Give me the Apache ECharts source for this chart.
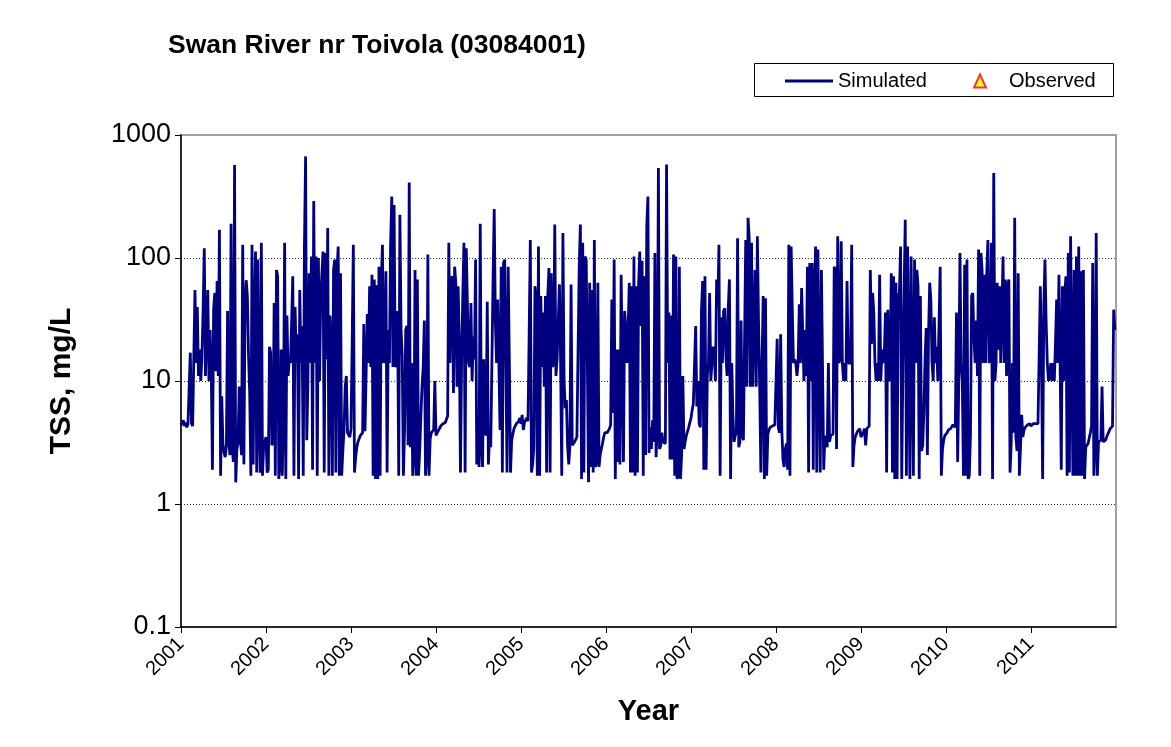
<!DOCTYPE html>
<html>
<head>
<meta charset="utf-8">
<script src="https://cdn.jsdelivr.net/npm/echarts@6/dist/echarts.min.js"></script>
<style>
html,body{margin:0;padding:0;background:#fff;}
#chart{width:1171px;height:747px;}
</style>
</head>
<body>
<div id="chart"></div>
<script>
// Simulated TSS (mg/L), one value every 5 days of each year (73 values per year)
const y2001 = [4.6,4.4,4.8,4.3,4.6,4.2,4.5,4.4,17,4.5,4.3,4.4,55,14,40,11,18,10,16,38,120,11,28,55,10,26,12,1.9,38,52,12,65,11,170,1.7,7.5,3.1,2.6,2.4,3.0,37,3.3,2.5,190,2.8,2.2,570,1.5,2.8,3.1,9,3.5,2.5,128,2.1,40,66,49,16,8,1.7,128,2.1,30,113,1.8,97,5,1.8,133,1.7,3,2.9];
const y2002 = [3.5,1.8,1.9,19,17,3.0,3.2,43,1.7,80,71,1.6,2.1,18,1.7,5.2,133,1.6,34,11,15,14,30,71,1.7,40,14,24,1.6,55,14,28,1.7,124,670,3.3,10,75,14,103,1.9,290,14,103,1.7,100,10,49,49,113,1.8,110,15,175,1.7,34,20,1.7,80,97,1.8,80,124,1.7,75,1.7,2.7,4,9,11,3.8,3.7,3.5];
const y2003 = [4.1,20,128,1.8,2.4,2.9,3.2,3.4,3.6,3.7,3.8,29,3.9,3.8,35,14,59,13,73,1.7,67,1.6,60,1.6,85,1.7,62,128,14,16,78,1.8,26,14,128,316,13,270,13,14,37,1.7,225,26,16,1.7,4,26,28,3,410,2.9,14,1.7,2.5,80,1.7,67,1.7,2.7,5.2,9,13,31,1.7,2.5,107,1.7,3.4,3.8,3.9,4,10];
const y2004 = [3.6,3.8,3.9,4.1,4.3,4.4,4.5,4.6,4.6,4.5,5.2,133,14,67,71,8,85,63,9,59,21,1.8,15,49,133,1.8,120,117,14,13,43,10,23,15,97,2.1,4,2.0,190,3,2.0,15,4,3.6,44,2.1,3.6,2.9,3.0,67,250,30,14,46,14,4,85,1.8,91,97,14,1.8,85,14,1.8,3.3,3.7,4.1,4.3,4.5,4.6,4.7,5.0];
const y2005 = [4.5,5.3,4.0,4.6,4.8,5.0,4.7,24,140,1.8,2.1,2.9,59,46,1.7,124,1.7,49,13,36,9,49,1.8,49,83,1.8,75,13,14,187,11,15,15,61,15,1.7,160,10,6,7,3,2.1,3,61,3,3,3.2,3.3,3.5,3.6,85,187,1.6,133,1.8,103,97,14,1.5,63,2.0,55,1.8,140,2.0,2.2,63,2.0,2.5,2.8,3.1,3.5,3.8];
const y2006 = [3.7,3.8,3.9,4.1,4.4,46,5.5,97,1.6,18,2.2,18,2.1,73,14,2.2,37,28,14,26,63,1.8,59,1.8,103,1.7,59,1.8,61,113,28,95,1.7,71,2.5,180,316,2.6,4.2,2.8,4.8,3.2,110,2.4,4.2,540,2.8,3,3.8,3.2,3.2,3.1,575,14,36,2.3,34,2.3,107,1.7,103,1.6,1.7,85,1.6,2.6,11,2.8,3.2,3.6,3.9,4.2,4.6];
const y2007 = [5.0,5.8,6.5,6.7,28,6.2,10,4.5,4.2,38,65,1.9,71,1.9,11,14,52,10,14,19,16,10,67,40,128,1.7,33,14,37,39,16,11,39,67,1.6,14,5.2,3.2,3.6,3.8,145,2.9,3.2,31,3.6,3.3,3.2,140,9,212,145,9,133,9,9,80,9,150,30,9,1.8,14,49,1.6,47,1.7,3.7,4.0,4.2,4.3,4.3,4.4,4.4];
const y2008 = [4.4,22,4.2,3.8,24,4.0,2.3,2.0,2.8,3.1,1.9,128,1.7,124,38,14,15,14,11,14,42,14,57,24,10,26,11,85,1.8,91,10,91,1.9,52,124,1.8,117,14,1.8,80,80,1.9,3.6,3.5,2.9,14,3.2,3.6,3.6,3.7,85,80,2.8,150,14,15,137,14,10,14,10,65,14,14,14,128,2.0,3.0,3.5,3.7,3.9,4.0,4.1];
const y2009 = [3.5,3.6,3.8,4.1,3.0,4.1,4.2,4.3,80,20,52,36,14,10,14,10,73,10,18,14,16,36,1.8,38,14,10,75,1.8,71,1.6,63,1.6,50,52,124,1.6,14,52,205,1.7,124,14,1.6,103,14,1.7,97,14,80,59,1.6,49,2.7,3.0,5.5,15,27,2.5,24,63,46,14,10,33,14,19,10,10,85,1.7,2.8,3.3,3.6];
const y2010 = [3.7,3.8,4.0,4.1,4.1,4.2,4.4,4.5,4.2,36,2.2,10,110,14,10,1.7,88,1.7,97,1.6,1.7,3.6,49,52,22,14,31,11,117,1.7,110,80,14,73,14,75,140,14,16,133,1.6,490,10,14,63,18,59,14,36,103,14,67,11,59,67,1.8,3.1,14,3.8,212,3.5,2.7,75,1.7,2.9,5.3,3.5,4.0,4.2,4.3,4.4,4.5,4.5];
const y2011 = [4.3,4.4,4.5,4.5,4.5,4.5,4.5,4.6,59,15,1.6,40,97,30,14,10,11,14,10,14,10,20,46,14,73,14,1.9,59,10,52,71,1.7,110,1.8,150,14,1.7,80,1.7,103,1.7,124,1.7,78,1.7,80,1.6,2.9,3.0,3.1,3.2,3.8,4.3,91,1.7,3.0,160,1.7,3.2,3.1,3.3,9,3.2,3.3,3.3,3.5,3.7,3.9,4.1,4.2,4.3,38,26];
const years = [2001,2002,2003,2004,2005,2006,2007,2008,2009,2010,2011];
const yearValues = [y2001,y2002,y2003,y2004,y2005,y2006,y2007,y2008,y2009,y2010,y2011];
const stepDays = 5;
const observed = []; // no observed samples in this period
const yTickLabels = ['0.1','1','10','100','1000'];

const simulated = [];
years.forEach((yr, k) => {
  yearValues[k].forEach((v, i) => {
    simulated.push([yr + i * stepDays / 365, v]);
  });
});

const FONT = 'Liberation Sans, Arial, sans-serif';
const chart = echarts.init(document.getElementById('chart'), null, {renderer: 'canvas'});
chart.setOption({
  animation: false,
  backgroundColor: '#ffffff',
  title: {
    text: 'Swan River nr Toivola (03084001)',
    left: 163, top: 27,
    textStyle: {fontFamily: FONT, fontWeight: 'bold', fontSize: 26.5, color: '#000'}
  },
  graphic: [{
    type: 'rect', z: 0,
    shape: {x: 754.5, y: 63.5, width: 359, height: 33},
    style: {fill: 'transparent', stroke: '#000', lineWidth: 1}
  }],
  legend: [{
    data: [{name: 'Simulated', icon: 'rect'}],
    left: 780, top: 66,
    itemWidth: 48, itemHeight: 3,
    textStyle: {fontFamily: FONT, fontSize: 20, color: '#000'}
  }, {
    data: [{name: 'Observed', icon: 'triangle',
            itemStyle: {color: '#ffff00', borderColor: '#ff0000', borderWidth: 2}}],
    left: 968, top: 66,
    itemWidth: 12, itemHeight: 13,
    textStyle: {fontFamily: FONT, fontSize: 20, color: '#000', padding: [0, 0, 0, 18]}
  }],
  grid: {
    left: 181, right: 55, top: 135, bottom: 120,
    show: true, borderColor: '#a0a0a0', borderWidth: 2, backgroundColor: '#fff'
  },
  xAxis: {
    type: 'value', min: 2001, max: 2012, interval: 1,
    name: 'Year', nameLocation: 'middle', nameGap: 70,
    nameTextStyle: {fontFamily: FONT, fontWeight: 'bold', fontSize: 29, color: '#000'},
    axisLine: {show: true, onZero: false, lineStyle: {color: '#000', width: 1.5}},
    axisTick: {show: true, length: 6, lineStyle: {color: '#000'}},
    axisLabel: {
      rotate: 45, margin: 14, fontFamily: FONT, fontSize: 20, color: '#000',
      showMaxLabel: false,
      formatter: v => (years.indexOf(Math.round(v)) >= 0 ? String(Math.round(v)) : '')
    },
    splitLine: {show: false}
  },
  yAxis: {
    type: 'log', logBase: 10, min: 0.1, max: 1000,
    name: 'TSS, mg/L', nameLocation: 'middle', nameGap: 104,
    nameTextStyle: {fontFamily: FONT, fontWeight: 'bold', fontSize: 30, color: '#000'},
    axisLine: {show: true, lineStyle: {color: '#000', width: 1.5}},
    axisTick: {show: true, length: 6, lineStyle: {color: '#000'}},
    axisLabel: {
      margin: 10, fontFamily: FONT, fontSize: 27, color: '#000',
      formatter: v => {
        const e = Math.round(Math.log10(v));
        return yTickLabels[e + 1] || '';
      }
    },
    splitLine: {show: true, lineStyle: {color: ['transparent', '#333', '#333', '#333', 'transparent'], type: [1, 2], width: 1}}
  },
  series: [{
    name: 'Simulated', type: 'line',
    data: simulated,
    showSymbol: false, symbol: 'none',
    sampling: false,
    lineStyle: {color: '#000080', width: 2.8},
    itemStyle: {color: '#000080'},
    z: 3
  }, {
    name: 'Observed', type: 'scatter',
    data: observed,
    symbol: 'triangle', symbolSize: 10,
    itemStyle: {color: '#ffff00', borderColor: '#ff0000', borderWidth: 2}
  }]
});
</script>
</body>
</html>
